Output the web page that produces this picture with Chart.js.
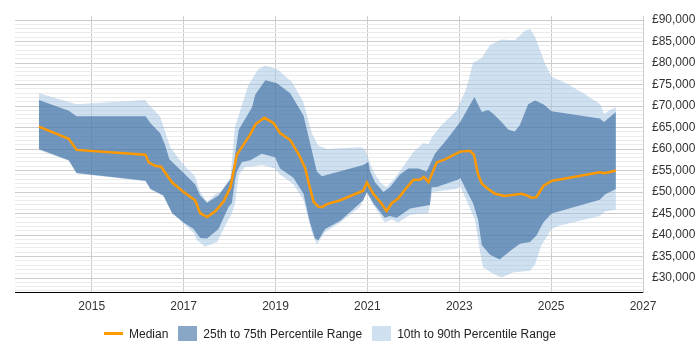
<!DOCTYPE html>
<html>
<head>
<meta charset="utf-8">
<script src="https://cdn.jsdelivr.net/npm/chart.js@4.4.1/dist/chart.umd.min.js"></script>
<style>
  body { margin: 0; background: #fff; }
  #wrap { position: relative; width: 700px; height: 350px; }
  #legend {
    position: absolute; left: 104px; top: 326px;
    display: flex; align-items: center;
    font: 12px "Liberation Sans", Arial, sans-serif; color: #222;
  }
  .item { display: flex; align-items: center; margin-right: 10px; }
  .swatch { width: 19px; height: 15px; margin-right: 6px; }
  .swatch.line { height: 3px; }
</style>
</head>
<body>
<div id="wrap">
  <canvas id="salaryChart" width="700" height="350"></canvas>
  <div id="legend"></div>
</div>
<script>
// tick labels
const xTickYears = [2015, 2017, 2019, 2021, 2023, 2025, 2027];
const seriesLabels = ['Median', '25th to 75th Percentile Range', '10th to 90th Percentile Range'];

// median
const medianYears = [2013.85, 2014.50, 2014.67, 2016.17, 2016.24, 2016.38, 2016.51, 2016.75, 2017.00, 2017.25,
  2017.36, 2017.51, 2017.69, 2017.87, 2018.02, 2018.16, 2018.45, 2018.57, 2018.76, 2018.96,
  2019.10, 2019.32, 2019.50, 2019.65, 2019.72, 2019.83, 2019.93, 2020.01, 2020.12, 2020.41,
  2020.91, 2020.99, 2021.13, 2021.28, 2021.42, 2021.53, 2021.67, 2021.86, 2022.00, 2022.15,
  2022.23, 2022.33, 2022.51, 2022.69, 2023.02, 2023.23, 2023.32, 2023.41, 2023.49, 2023.63,
  2023.78, 2023.99, 2024.36, 2024.47, 2024.57, 2024.68, 2024.83, 2025.01, 2025.19, 2026.06,
  2026.17, 2026.41];
const medianValues = [65200, 62400, 59800, 58700, 56900, 56100, 55900, 52200, 50000, 48100,
  45100, 44200, 45500, 47800, 51100, 58700, 63400, 65800, 67300, 66000,
  63700, 62100, 58900, 55500, 52200, 47700, 46600, 46500, 47200, 48100,
  50300, 52200, 49600, 47700, 45600, 47400, 48500, 51100, 52800, 52900,
  53500, 52300, 56900, 57600, 59400, 59600, 58700, 54100, 52000, 50700,
  49600, 49100, 49600, 49200, 48700, 48800, 51400, 52600, 52900, 54600,
  54400, 55000];

// 75th percentile
const p75Years = [2013.85, 2014.50, 2014.67, 2016.17, 2016.28, 2016.49, 2016.59, 2016.69, 2017.00, 2017.25,
  2017.36, 2017.51, 2017.76, 2018.02, 2018.09, 2018.20, 2018.49, 2018.56, 2018.78, 2019.03,
  2019.32, 2019.61, 2019.75, 2019.90, 2020.01, 2020.91, 2021.02, 2021.06, 2021.17, 2021.35,
  2021.49, 2021.71, 2021.89, 2022.11, 2022.29, 2022.47, 2022.73, 2023.02, 2023.16, 2023.33,
  2023.49, 2023.63, 2023.74, 2023.92, 2024.07, 2024.21, 2024.32, 2024.50, 2024.65, 2024.83,
  2025.01, 2026.06, 2026.15, 2026.41];
const p75Values = [71400, 68900, 67600, 67600, 66000, 63700, 61100, 57600, 54400, 51800,
  49200, 47500, 49200, 53000, 56300, 64500, 69700, 72700, 76000, 75300,
  73000, 67800, 61500, 54800, 53700, 56300, 57000, 54800, 52200, 50000,
  51100, 54100, 55500, 55500, 54800, 58900, 62200, 66300, 68900, 72100,
  68600, 69100, 68200, 66300, 64500, 64100, 65600, 70400, 71300, 70400,
  68800, 67100, 66300, 68600];

// 25th percentile
const p25Years = [2013.85, 2014.50, 2014.67, 2016.17, 2016.28, 2016.56, 2016.75, 2017.00, 2017.22, 2017.36,
  2017.51, 2017.76, 2017.98, 2018.05, 2018.12, 2018.16, 2018.27, 2018.45, 2018.70, 2018.99,
  2019.10, 2019.39, 2019.61, 2019.75, 2019.86, 2019.93, 2020.08, 2020.41, 2020.91, 2020.99,
  2021.13, 2021.38, 2021.49, 2021.64, 2021.93, 2022.36, 2022.40, 2022.51, 2022.98, 2023.02,
  2023.16, 2023.30, 2023.41, 2023.49, 2023.67, 2023.88, 2024.10, 2024.32, 2024.54, 2024.68,
  2024.83, 2025.01, 2026.06, 2026.17, 2026.41];
const p25Values = [60000, 57400, 54400, 52600, 50700, 49200, 45100, 42900, 41400, 39300,
  39200, 41400, 46600, 47400, 52900, 54800, 57000, 57400, 58900, 58100,
  55500, 53300, 49600, 42900, 39200, 38800, 41400, 43300, 48100, 50000,
  47400, 44000, 44400, 44000, 46200, 47000, 51100, 51200, 52900, 53300,
  50300, 47400, 43600, 37700, 35400, 34300, 36200, 38000, 38400, 39900,
  42900, 45000, 48200, 49400, 50700];

// 90th percentile
const p90Years = [2013.85, 2014.67, 2016.17, 2016.20, 2016.49, 2016.71, 2017.00, 2017.25, 2017.36, 2017.51,
  2017.69, 2017.80, 2018.02, 2018.12, 2018.41, 2018.63, 2018.78, 2019.03, 2019.36, 2019.61,
  2019.79, 2019.93, 2020.12, 2020.84, 2020.95, 2021.02, 2021.13, 2021.28, 2021.42, 2021.57,
  2021.78, 2022.00, 2022.22, 2022.33, 2022.40, 2022.58, 2022.94, 2023.16, 2023.30, 2023.49,
  2023.67, 2023.92, 2024.21, 2024.43, 2024.54, 2024.65, 2024.86, 2025.01, 2025.33, 2025.70,
  2025.91, 2026.07, 2026.15, 2026.24, 2026.41];
const p90Values = [73000, 70400, 71400, 70800, 67500, 60400, 56300, 53700, 50000, 47700,
  49500, 50000, 53300, 65200, 74900, 78600, 79400, 78600, 75600, 70800,
  63700, 60800, 60000, 60400, 60000, 57800, 54800, 52200, 51100, 52900,
  55900, 59300, 61400, 61100, 62600, 65200, 68900, 74200, 80100, 81200,
  84200, 85500, 85300, 87500, 87900, 86100, 80100, 76800, 75300, 73000,
  71500, 70400, 68100, 68800, 69800];

// 10th percentile
const p10Years = [2013.85, 2014.50, 2014.67, 2016.17, 2016.28, 2016.56, 2016.75, 2017.00, 2017.22, 2017.29,
  2017.47, 2017.73, 2017.94, 2018.05, 2018.12, 2018.20, 2018.34, 2018.45, 2018.70, 2018.99,
  2019.10, 2019.39, 2019.61, 2019.79, 2019.90, 2020.08, 2020.41, 2020.84, 2020.99, 2021.13,
  2021.38, 2021.53, 2021.67, 2021.93, 2022.33, 2022.41, 2022.94, 2023.02, 2023.16, 2023.34,
  2023.45, 2023.52, 2023.74, 2023.92, 2024.17, 2024.54, 2024.65, 2024.79, 2025.01, 2025.19,
  2026.06, 2026.17, 2026.41];
const p10Values = [59800, 57300, 54300, 52500, 50600, 49100, 45000, 42700, 40500, 38800,
  37300, 38400, 42900, 45000, 47400, 54000, 55900, 55900, 56300, 55500,
  54100, 51800, 48100, 40700, 37800, 40700, 42900, 46600, 49900, 47000,
  42900, 43600, 42900, 44700, 45100, 50000, 50700, 51400, 48000, 43600,
  36200, 32500, 31000, 30100, 31300, 31700, 33200, 37700, 41400, 42200,
  44400, 45500, 45900];

const MEDIAN_COLOR = '#ff9900';
const IQR_COLOR = 'rgba(17, 77, 141, 0.5)';
const RANGE_COLOR = 'rgba(159, 193, 226, 0.5)';

Chart.defaults.font.family = '"Liberation Sans", Arial, sans-serif';
Chart.defaults.font.size = 12;

function toPoints(years, values) {
  return years.map((x, i) => ({ x: x, y: values[i] }));
}

function band(label, years, values, fill, color, order) {
  return {
    label: label,
    data: toPoints(years, values),
    borderColor: 'transparent',
    borderWidth: 0,
    backgroundColor: color || 'transparent',
    pointRadius: 0,
    tension: 0,
    fill: fill,
    order: order
  };
}

const ctx = document.getElementById('salaryChart');
new Chart(ctx, {
  type: 'line',
  data: {
    datasets: [
      {
        label: seriesLabels[0],
        data: toPoints(medianYears, medianValues),
        borderColor: MEDIAN_COLOR,
        borderWidth: 2.5,
        pointRadius: 0,
        tension: 0,
        fill: false,
        order: 0
      },
      band(seriesLabels[1], p75Years, p75Values, { target: 2 }, IQR_COLOR, 1),
      band('25th', p25Years, p25Values, false, null, 1),
      band(seriesLabels[2], p90Years, p90Values, { target: 4 }, RANGE_COLOR, 2),
      band('10th', p10Years, p10Values, false, null, 2)
    ]
  },
  options: {
    responsive: false,
    animation: false,
    layout: { padding: { left: 15, top: 5, right: 0, bottom: 0 } },
    plugins: {
      legend: { display: false },
      tooltip: { enabled: false }
    },
    scales: {
      x: {
        type: 'linear',
        min: 2013.33,
        max: 2027,
        afterBuildTicks: scale => { scale.ticks = xTickYears.map(v => ({ value: v })); },
        afterFit: scale => { scale.height = 58; },
        ticks: {
          autoSkip: false,
          maxRotation: 0,
          padding: 7,
          color: '#333',
          callback: v => String(v)
        },
        grid: { color: '#cccccc', drawTicks: false },
        border: { color: '#000000' }
      },
      y: {
        position: 'right',
        min: 26750,
        max: 90900,
        afterBuildTicks: scale => {
          const ticks = [];
          for (let v = 27000; v <= 90000; v += 1000) ticks.push({ value: v });
          scale.ticks = ticks;
        },
        afterFit: scale => { scale.width = 57; },
        ticks: {
          autoSkip: false,
          padding: 9,
          color: '#333',
          callback: v => (v % 5000 === 0 ? '£' + v.toLocaleString('en-GB') : '')
        },
        grid: {
          drawTicks: false,
          color: c => (c.tick && c.tick.value % 5000 === 0 ? '#cccccc' : '#ebebeb')
        },
        border: { color: '#cccccc' }
      }
    }
  }
});

// legend
const legendColors = [MEDIAN_COLOR, IQR_COLOR, RANGE_COLOR];
const legend = document.getElementById('legend');
seriesLabels.forEach((label, i) => {
  const item = document.createElement('div');
  item.className = 'item';
  item.innerHTML = `<span class="swatch${i === 0 ? ' line' : ''}" style="background:${legendColors[i]}"></span><span>${label}</span>`;
  legend.appendChild(item);
});
</script>
</body>
</html>
